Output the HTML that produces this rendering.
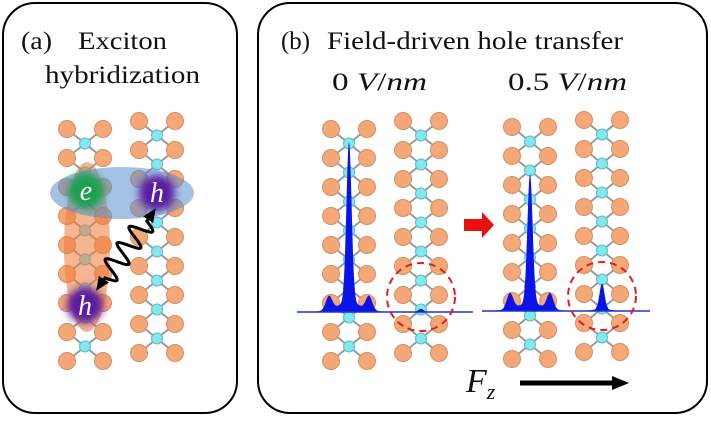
<!DOCTYPE html>
<html><head><meta charset="utf-8"><style>
html,body{margin:0;padding:0;background:#fff;}
svg{display:block;}
text{font-family:"Liberation Serif",serif;fill:#111;}
</style></head><body>
<svg id="fig" width="711" height="444" viewBox="0 0 711 444" xmlns="http://www.w3.org/2000/svg">
<defs>
<filter id="blur" x="-50%" y="-50%" width="200%" height="200%"><feGaussianBlur stdDeviation="4"/></filter>
<marker id="ah" markerUnits="userSpaceOnUse" markerWidth="14" markerHeight="14" refX="7" refY="7" orient="auto-start-reverse"><path d="M0,1 L14,7 L0,13 z" fill="#000"/></marker>
</defs>
<rect x="3" y="3" width="234" height="410" rx="32" fill="none" stroke="#000" stroke-width="2"/>
<rect x="258" y="3" width="449" height="410" rx="32" fill="none" stroke="#000" stroke-width="2"/>
<text x="21" y="49" font-size="25" textLength="31" lengthAdjust="spacingAndGlyphs">(a)</text>
<text x="78" y="49" font-size="25" textLength="89" lengthAdjust="spacingAndGlyphs">Exciton</text>
<text x="45" y="83" font-size="25" textLength="155" lengthAdjust="spacingAndGlyphs">hybridization</text>
<text x="281" y="49" font-size="25" textLength="29" lengthAdjust="spacingAndGlyphs">(b)</text>
<text x="327" y="49" font-size="25" textLength="296" lengthAdjust="spacingAndGlyphs">Field-driven hole transfer</text>
<text x="332" y="90" font-size="25" textLength="95" lengthAdjust="spacingAndGlyphs">0 <tspan font-style="italic">V</tspan>/<tspan font-style="italic">nm</tspan></text>
<text x="508" y="90" font-size="25" textLength="119" lengthAdjust="spacingAndGlyphs">0.5 <tspan font-style="italic">V</tspan>/<tspan font-style="italic">nm</tspan></text>
<g id="chains"></g>
<g id="overlay-a">
<ellipse cx="87" cy="247" rx="23" ry="85" fill="#f07a3a" opacity="0.55"/>
<ellipse cx="122" cy="193" rx="72" ry="26" fill="#5a8fd0" opacity="0.55"/>
<circle cx="86" cy="191" r="18" fill="#1aa050" filter="url(#blur)"/>
<circle cx="157" cy="193" r="18" fill="#5a1aa0" filter="url(#blur)"/>
<circle cx="85" cy="305" r="18" fill="#5a1aa0" filter="url(#blur)"/>
<text x="86" y="200" font-size="28" font-style="italic" text-anchor="middle" style="fill:#fff">e</text>
<text x="157" y="202" font-size="28" font-style="italic" text-anchor="middle" style="fill:#fff">h</text>
<text x="85" y="315" font-size="28" font-style="italic" text-anchor="middle" style="fill:#fff">h</text>
<path id="wave" fill="none" stroke="#000" stroke-width="3" marker-start="url(#ah)" marker-end="url(#ah)"/>
</g>
<g id="peaks"></g>
<path d="M464,219 h18 v-7 l12,13 l-12,13 v-7 h-18 z" fill="#e81010"/>
<text x="466" y="392" font-size="34" font-style="italic">F<tspan font-size="22" dy="7">z</tspan></text>
<line x1="520" y1="383" x2="614" y2="383" stroke="#000" stroke-width="5"/>
<path d="M612,376 L629,383 L612,390 z" fill="#000"/>
</svg>
<script>
// chain layouts: centers x, first row y
const chainCenters = [85, 157, 349, 421, 530, 602];
const chainTops = [129, 121, 129, 121, 127, 120];
const rowCount = 9;
// peak data per panel (offsets in px from main chain, heights in px)
const peakOffsets = [-20, 0, 20, 72];
const heights0 = [14, 160, 14, 3];
const heights05 = [16, 129, 16, 26];
const baselineY = [312, 311];
const peakCenters = [349, 530];
const baseRanges = [[297, 473], [482, 650]];
const circleCenters = [[421, 297], [602, 296]];

const NS = "http://www.w3.org/2000/svg";
const chains = document.getElementById('chains');
const spacing = 29;
chainCenters.forEach((cx, ci) => {
  const g = document.createElementNS(NS, 'g');
  
  
  const top = chainTops[ci];
  const half = 18;
  let bonds = '', atoms = '';
  for (let r = 0; r < rowCount; r++) {
    const y = top + r * spacing;
    if (r < rowCount - 1) {
      const cy = y + spacing / 2;
      bonds += `<line x1="${cx-half}" y1="${y}" x2="${cx}" y2="${cy}"/><line x1="${cx+half}" y1="${y}" x2="${cx}" y2="${cy}"/><line x1="${cx-half}" y1="${y+spacing}" x2="${cx}" y2="${cy}"/><line x1="${cx+half}" y1="${y+spacing}" x2="${cx}" y2="${cy}"/>`;
      atoms += `<circle cx="${cx}" cy="${cy}" r="5.5" fill="#80eaf0" stroke="#5cbcc4"/>`;
    }
    atoms += `<circle cx="${cx-half}" cy="${y}" r="8.5" fill="#f4a878" stroke="#d49060"/><circle cx="${cx+half}" cy="${y}" r="8.5" fill="#f4a878" stroke="#d49060"/>`;
  }
  g.innerHTML = `<g stroke="#999" stroke-width="2">${bonds}</g>${atoms}`;
  chains.appendChild(g);
});

// wave arrow
(function(){
  const x0=100,y0=285,x1=152,y1=214;
  const dx=x1-x0, dy=y1-y0, L=Math.hypot(dx,dy), nx=-dy/L, ny=dx/L;
  let d='';
  for(let i=0;i<=120;i++){const t=i/120; const a=(t<0.1||t>0.9)?0:11*Math.sin((t-0.1)/0.8*Math.PI*2*3.5);
    const x=x0+dx*t+nx*a, y=y0+dy*t+ny*a; d+=(i?'L':'M')+x.toFixed(1)+','+y.toFixed(1);}
  document.getElementById('wave').setAttribute('d',d);
})();

// peaks
const peaks = document.getElementById('peaks');
[heights0, heights05].forEach((hs, pi) => {
  const by = baselineY[pi], pc = peakCenters[pi];
  const [xa, xb] = baseRanges[pi];
  const widths = [3.2, 2.6, 3.2, 2.5];
  let d = `M${xa},${by}`;
  for (let x = xa; x <= xb; x += 0.5) {
    let v = 0;
    peakOffsets.forEach((o, k) => {
      const z = (x - (pc + o)) / widths[k];
      v += hs[k] * Math.exp(-z*z/2);
      const zb = (x - (pc + o)) / (widths[k] * 4);
      v += hs[k] * 0.06 * Math.exp(-zb*zb/2);
    });
    d += `L${x},${(by - v).toFixed(2)}`;
  }
  d += `L${xb},${by}Z`;
  const p = document.createElementNS(NS, 'path');
  p.setAttribute('d', d);
  p.setAttribute('fill', '#0a14e6');
  
  
  peaks.appendChild(p);
  const l = document.createElementNS(NS, 'line');
  l.setAttribute('x1', xa); l.setAttribute('x2', xb); l.setAttribute('y1', by); l.setAttribute('y2', by);
  l.setAttribute('stroke', '#2030d0'); l.setAttribute('stroke-width', '1.5');
  
  
  peaks.appendChild(l);
  const c = document.createElementNS(NS, 'circle');
  c.setAttribute('cx', circleCenters[pi][0]); c.setAttribute('cy', circleCenters[pi][1]); c.setAttribute('r', 34);
  c.setAttribute('fill', 'none'); c.setAttribute('stroke', '#e02020'); c.setAttribute('stroke-width', '2'); c.setAttribute('stroke-dasharray', '7 5');
  
  
  peaks.appendChild(c);
});
</script>
</body></html>
